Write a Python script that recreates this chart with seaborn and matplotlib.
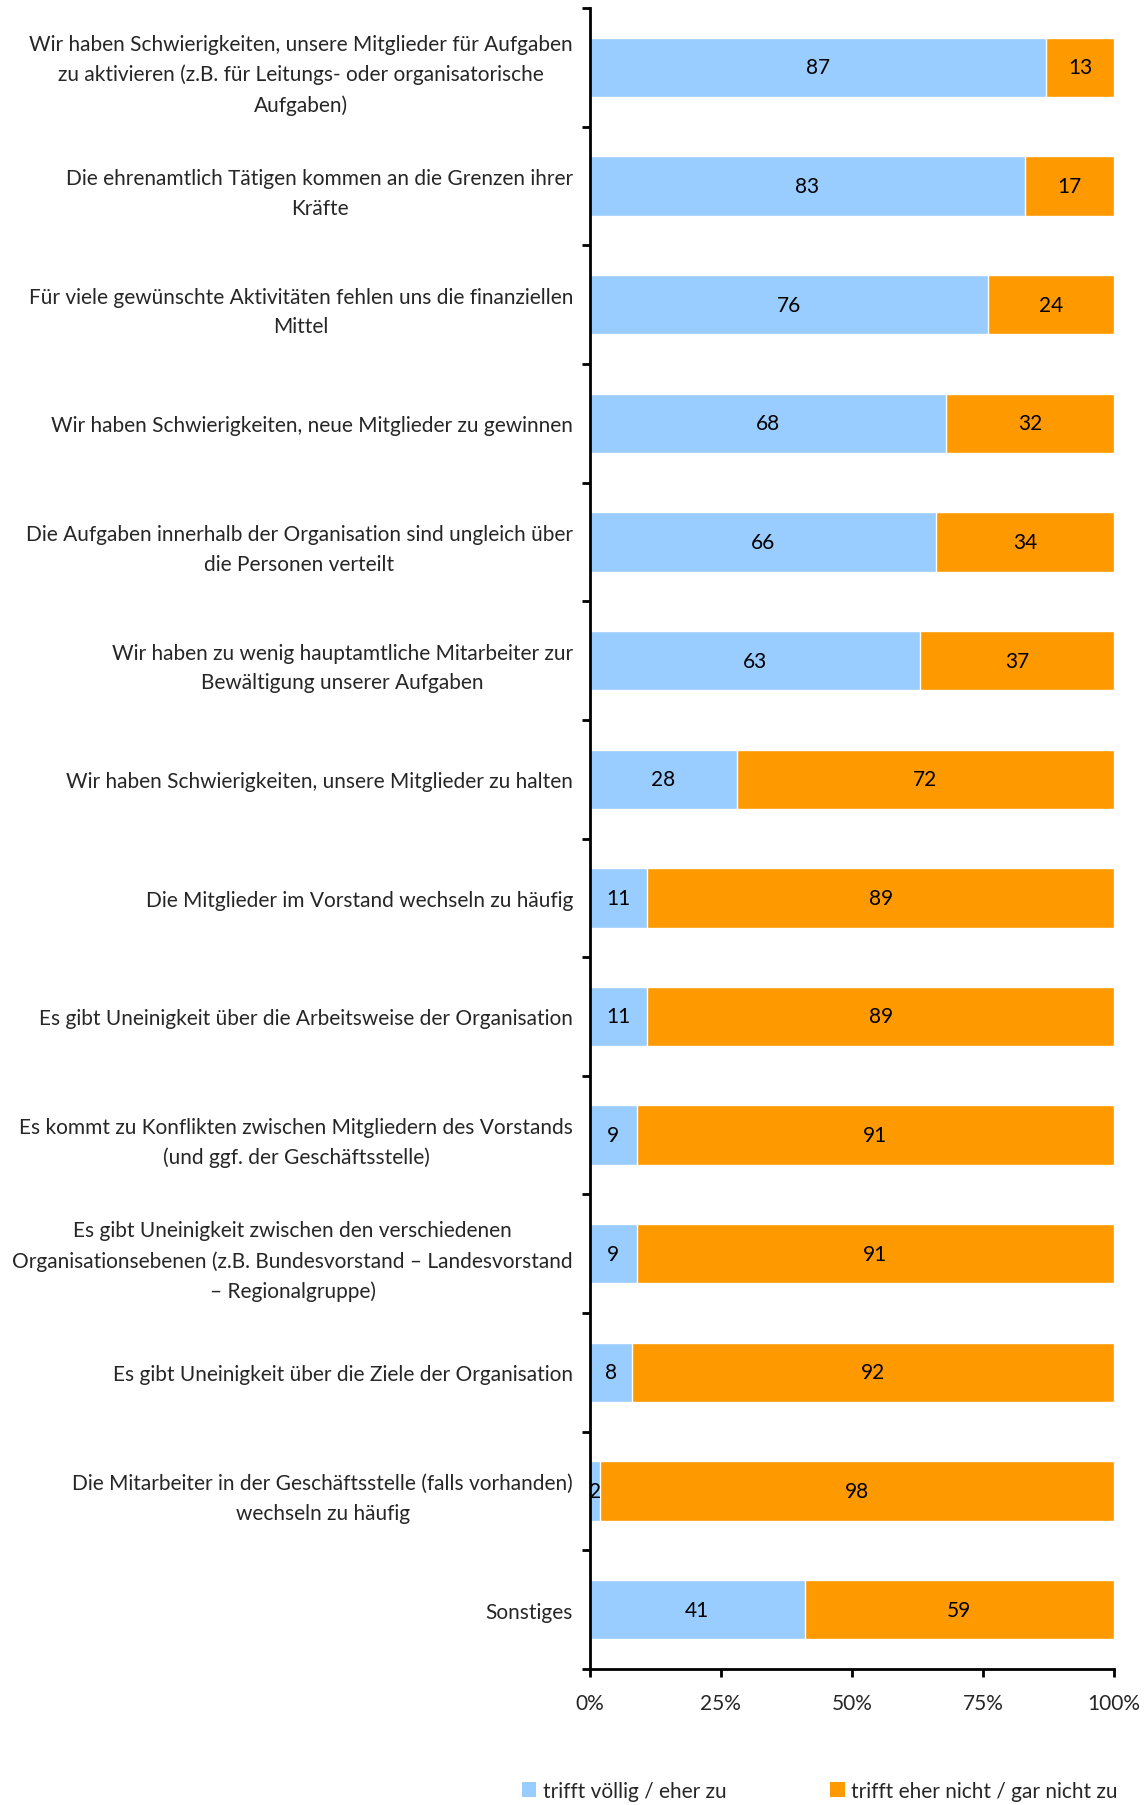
import matplotlib
matplotlib.use("Agg")
import matplotlib.pyplot as plt
import seaborn as sns
import pandas as pd
import numpy as np
from matplotlib.patches import Patch

categories = [
    "Wir haben Schwierigkeiten, unsere Mitglieder für Aufgaben\nzu aktivieren (z.B. für Leitungs- oder organisatorische\nAufgaben)",
    "Die ehrenamtlich Tätigen kommen an die Grenzen ihrer\nKräfte",
    "Für viele gewünschte Aktivitäten fehlen uns die finanziellen\nMittel",
    "Wir haben Schwierigkeiten, neue Mitglieder zu gewinnen",
    "Die Aufgaben innerhalb der Organisation sind ungleich über\ndie Personen verteilt",
    "Wir haben zu wenig hauptamtliche Mitarbeiter zur\nBewältigung unserer Aufgaben",
    "Wir haben Schwierigkeiten, unsere Mitglieder zu halten",
    "Die Mitglieder im Vorstand wechseln zu häufig",
    "Es gibt Uneinigkeit über die Arbeitsweise der Organisation",
    "Es kommt zu Konflikten zwischen Mitgliedern des Vorstands\n(und ggf. der Geschäftsstelle)",
    "Es gibt Uneinigkeit zwischen den verschiedenen\nOrganisationsebenen (z.B. Bundesvorstand – Landesvorstand\n– Regionalgruppe)",
    "Es gibt Uneinigkeit über die Ziele der Organisation",
    "Die Mitarbeiter in der Geschäftsstelle (falls vorhanden)\nwechseln zu häufig",
    "Sonstiges",
]
trifft_zu = [87, 83, 76, 68, 66, 63, 28, 11, 11, 9, 9, 8, 2, 41]
trifft_nicht_zu = [13, 17, 24, 32, 34, 37, 72, 89, 89, 91, 91, 92, 98, 59]
series_names = ["trifft völlig / eher zu", "trifft eher nicht / gar nicht zu"]
x_ticks = [0, 25, 50, 75, 100]

BLUE = "#99CCFF"
ORANGE = "#FF9900"

sns.set_theme(style="white")
plt.rcParams["font.family"] = ["Lato", "DejaVu Sans"]

df = pd.DataFrame({"cat": categories, "zu": trifft_zu, "nicht": trifft_nicht_zu})
df["total"] = df["zu"] + df["nicht"]

fig = plt.figure(figsize=(11.45, 18.06), dpi=100)
ax = fig.add_axes([0.515, 0.0753, 0.973 - 0.515, 0.995 - 0.0753])

sns.barplot(data=df, x="total", y="cat", orient="h", color=ORANGE, width=0.5,
            saturation=1, ax=ax)
sns.barplot(data=df, x="zu", y="cat", orient="h", color=BLUE, width=0.5,
            saturation=1, ax=ax)

fs = 15.0
for i, (a, b) in enumerate(zip(trifft_zu, trifft_nicht_zu)):
    ax.text(a / 2, i, str(a), ha="center", va="center", fontsize=fs, color="black")
    ax.text(a + b / 2, i, str(b), ha="center", va="center", fontsize=fs, color="black")

ax.set_xlim(0, 100)
ax.set_ylim(len(categories) - 0.5, -0.5)
ax.set_xticks(x_ticks)
ax.set_xticklabels([f"{t}%" for t in x_ticks], fontsize=fs)
ax.set_xlabel("")
ax.set_ylabel("")

ax.set_yticks(range(len(categories)))
ax.set_yticklabels(categories, fontsize=fs, linespacing=1.6)
for lab in ax.get_yticklabels():
    lab.set_multialignment("center")
ax.set_yticks(np.arange(-0.5, len(categories), 1.0), minor=True)
ax.tick_params(axis="y", which="major", length=0, pad=12)
ax.tick_params(axis="y", which="minor", length=6, width=2, color="black", direction="out", left=True)
ax.tick_params(axis="x", which="major", length=6, width=2, color="black", direction="out",
               bottom=True, pad=11)

for s in ["top", "right"]:
    ax.spines[s].set_visible(False)
for s in ["left", "bottom"]:
    ax.spines[s].set_color("black")
    ax.spines[s].set_linewidth(2)

handles = [Patch(facecolor=BLUE, edgecolor="none"), Patch(facecolor=ORANGE, edgecolor="none")]
fig.legend(handles, series_names, loc="lower center", bbox_to_anchor=(0.716, -0.008), ncol=2,
           frameon=False, fontsize=15, handlelength=0.7, handleheight=0.7,
           handletextpad=0.3, columnspacing=5.0)

fig.savefig("out.png", dpi=100)
